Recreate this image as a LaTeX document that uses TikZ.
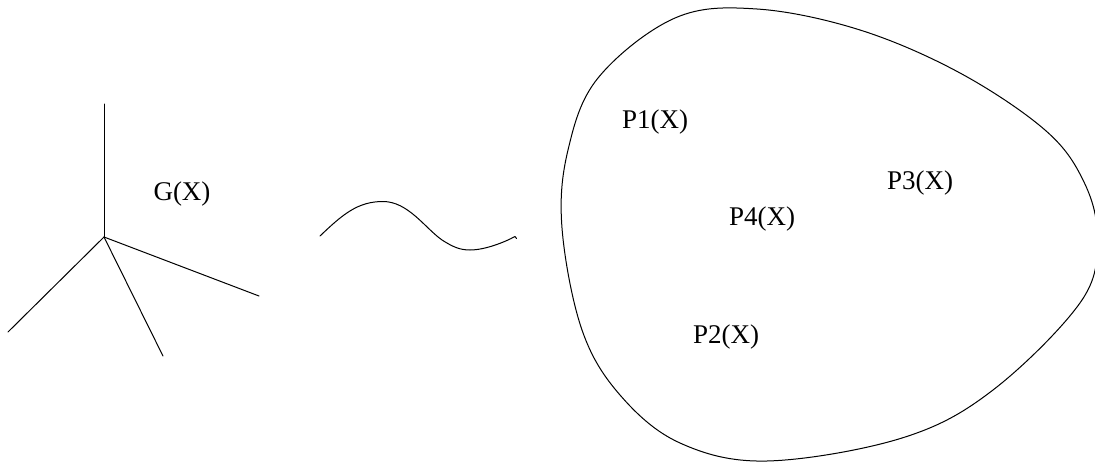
\documentclass[tikz,border=0pt]{standalone}
\usepackage{fontspec}
\setmainfont{Liberation Serif}
\begin{document}
\begin{tikzpicture}[x=1pt,y=-1pt,
  ln/.style={line width=1pt,line join=round,line cap=round},
  lbl/.style={anchor=base,inner sep=0pt,font=\fontsize{27}{30}\selectfont}]
\useasboundingbox (0,0) rectangle (1095,463);
% tree
\coordinate (c) at (104,237);
\coordinate (t) at (104,104);
\coordinate (l) at (8,332);
\coordinate (m) at (163,356);
\coordinate (r) at (259,296);
\draw[ln] (c) -- (t);
\draw[ln] (c) -- (l);
\draw[ln] (c) -- (m);
\draw[ln] (c) -- (r);
\node[lbl] (g) at (182,200) {G(X)};
% tilde
\coordinate (w0) at (320,236);
\coordinate (w1) at (383,201.5);
\coordinate (w2) at (470,250);
\coordinate (w3) at (515,236.5);
\draw[ln] (w0) .. controls (343,214) and (358,201.5) .. (w1)
  .. controls (408,201.5) and (425,228) .. (442,240)
  .. controls (453,247) and (460,250) .. (w2)
  .. controls (485,250) and (505,242) .. (w3) -- (516.5,238.5);
% blob
\draw[ln] plot[smooth cycle,tension=0.6] coordinates {
  (757,9) (860,30) (960,73) (1045,130) (1083,180) (1097,235)
  (1082,300) (993,390) (902,438) (767,461) (680,443) (620,395)
  (582,330) (562,228) (568,150) (598,78) (675,18)};
\node[lbl] (p1) at (655,128) {P1(X)};
\node[lbl] (p3) at (920,189) {P3(X)};
\node[lbl] (p4) at (762,225) {P4(X)};
\node[lbl] (p2) at (726,343) {P2(X)};
\end{tikzpicture}
\end{document}
